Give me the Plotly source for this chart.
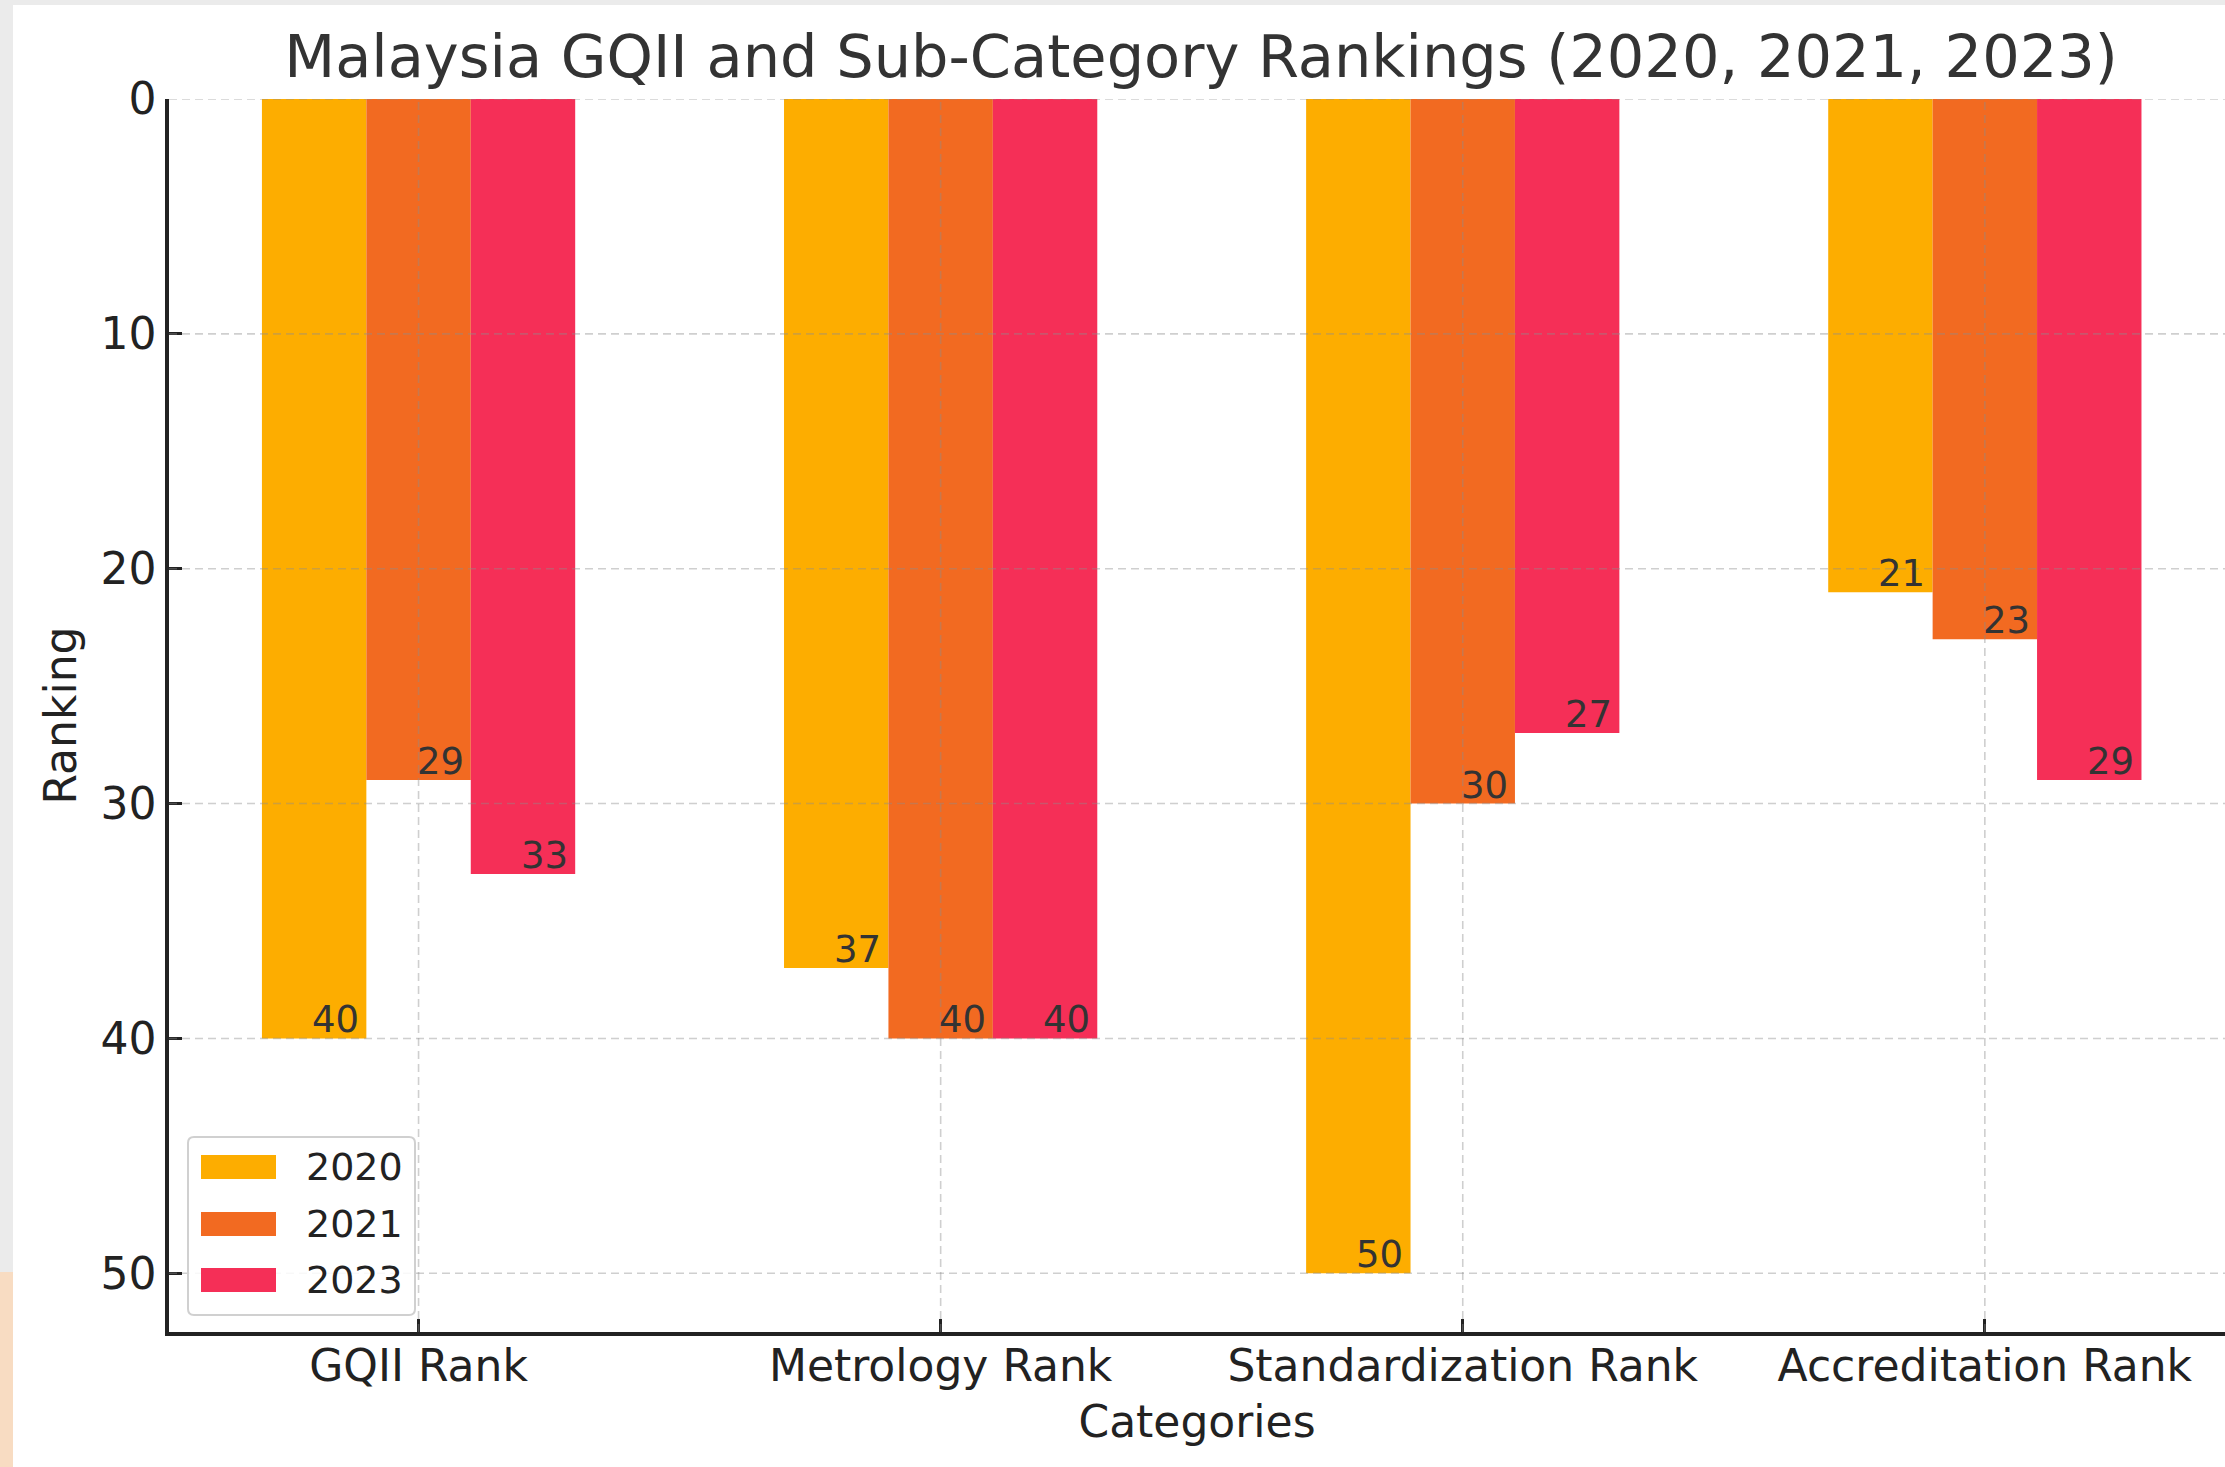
import plotly.graph_objects as go

# ---------------- data ----------------
categories = ["GQII Rank", "Metrology Rank", "Standardization Rank", "Accreditation Rank"]
years = ["2020", "2021", "2023"]
rank_2020 = [40, 37, 50, 21]
rank_2021 = [29, 40, 30, 23]
rank_2023 = [33, 40, 27, 29]
y_ticks = [0, 10, 20, 30, 40, 50]

series = [rank_2020, rank_2021, rank_2023]
colors = ["#FDAD00", "#F26A21", "#F52F57"]

# ---------------- layout helpers ----------------
W, H = 2225, 1467
ML, MR, MT, MB = 169, 0, 99, 135
PW = W - ML - MR
PH = H - MT - MB


def px(x):
    return (x - ML) / PW


def py(y):
    return (H - MB - y) / PH


def rounded_rect(x0, y0, x1, y1, r):
    rx, ry = r / PW, r / PH
    X0, X1 = px(x0), px(x1)
    Y0, Y1 = py(y1), py(y0)
    return (f"M{X0+rx},{Y0} L{X1-rx},{Y0} Q{X1},{Y0} {X1},{Y0+ry} "
            f"L{X1},{Y1-ry} Q{X1},{Y1} {X1-rx},{Y1} L{X0+rx},{Y1} "
            f"Q{X0},{Y1} {X0},{Y1-ry} L{X0},{Y0+ry} Q{X0},{Y0} {X0+rx},{Y0} Z")


x_pos = list(range(len(categories)))
bar_w = 0.2
offsets = [-0.2, 0.0, 0.2]
FONT = "DejaVu Sans"

fig = go.Figure()
for yr, vals, c in zip(years, series, colors):
    fig.add_trace(go.Bar(x=x_pos, y=vals, name=yr,
                         marker=dict(color=c, line=dict(width=0)),
                         showlegend=False, hoverinfo="x+y+name"))

annotations = []
for vals, off in zip(series, offsets):
    for i, v in enumerate(vals):
        annotations.append(dict(x=i + off + bar_w / 2 - 0.01, y=v, xref="x", yref="y",
                                text=str(v), showarrow=False, xanchor="right",
                                yanchor="bottom", yshift=-5,
                                font=dict(family=FONT, size=37, color="#333333")))

shapes = []
for t in y_ticks:
    shapes.append(dict(type="line", xref="paper", yref="y", x0=0, x1=1, y0=t, y1=t,
                       line=dict(color="rgba(140,140,140,0.42)", width=1.6, dash="8px,5px"),
                       layer="above"))
for t in x_pos:
    shapes.append(dict(type="line", xref="x", yref="paper", x0=t, x1=t, y0=0, y1=1,
                       line=dict(color="rgba(140,140,140,0.42)", width=1.6, dash="8px,5px"),
                       layer="above"))

# manual legend
shapes.append(dict(type="path", xref="paper", yref="paper",
                   path=rounded_rect(188, 1137, 415, 1315, 6),
                   fillcolor="rgba(255,255,255,0.85)",
                   line=dict(color="#d0d0d0", width=2), layer="above"))
sw_centers = [1167, 1224, 1280]
for yr, c, yc in zip(years, colors, sw_centers):
    shapes.append(dict(type="rect", xref="paper", yref="paper",
                       x0=px(201), x1=px(276), y0=py(yc + 12), y1=py(yc - 12),
                       fillcolor=c, line=dict(width=0), layer="above"))
    annotations.append(dict(x=px(304), y=py(yc), xref="paper", yref="paper", text=yr,
                            showarrow=False, xanchor="left", yanchor="middle",
                            font=dict(family=FONT, size=38, color="#222222")))

# decorative screenshot frame
shapes.append(dict(type="rect", xref="paper", yref="paper", x0=px(0), x1=px(W),
                   y0=py(5), y1=py(0), fillcolor="#ebebeb", line=dict(width=0), layer="above"))
shapes.append(dict(type="rect", xref="paper", yref="paper", x0=px(0), x1=px(13),
                   y0=py(1272), y1=py(0), fillcolor="#ebebeb", line=dict(width=0), layer="above"))
shapes.append(dict(type="rect", xref="paper", yref="paper", x0=px(0), x1=px(13),
                   y0=py(H), y1=py(1272), fillcolor="#f8dcc2", line=dict(width=0), layer="above"))

fig.update_layout(
    width=W, height=H,
    margin=dict(l=ML, r=MR, t=MT, b=MB, pad=0),
    paper_bgcolor="white", plot_bgcolor="white",
    barmode="group", bargap=0.4, bargroupgap=0.0,
    font=dict(family=FONT, color="#222222"),
    title=dict(text="Malaysia GQII and Sub-Category Rankings (2020, 2021, 2023)",
               x=1201 / W, xref="container", xanchor="center",
               y=1 - 56 / H, yref="container", yanchor="middle",
               font=dict(family=FONT, size=59, color="#333333")),
    xaxis=dict(range=[-0.478, 3.46], tickmode="array", tickvals=x_pos, ticktext=categories,
               ticks="inside", ticklen=13, tickwidth=2.5, tickcolor="#222222",
               showline=True, linewidth=3.5, linecolor="#222222",
               showgrid=False, zeroline=False, ticklabelstandoff=-8,
               tickfont=dict(family=FONT, size=44, color="#222222"),
               title=dict(text="Categories", standoff=18,
                          font=dict(family=FONT, size=44, color="#222222"))),
    yaxis=dict(range=[52.5, 0], tickmode="array", tickvals=y_ticks,
               ticks="inside", ticklen=13, tickwidth=2.5, tickcolor="#222222",
               showline=True, linewidth=3.5, linecolor="#222222",
               showgrid=False, zeroline=False,
               tickfont=dict(family=FONT, size=44, color="#222222"),
               title=dict(text="Ranking", standoff=11,
                          font=dict(family=FONT, size=44, color="#222222"))),
    annotations=annotations,
    shapes=shapes,
)

fig.write_html("out.html", config={"displayModeBar": False},
               post_script="document.body.style.margin='0px';document.body.style.overflow='hidden';")
